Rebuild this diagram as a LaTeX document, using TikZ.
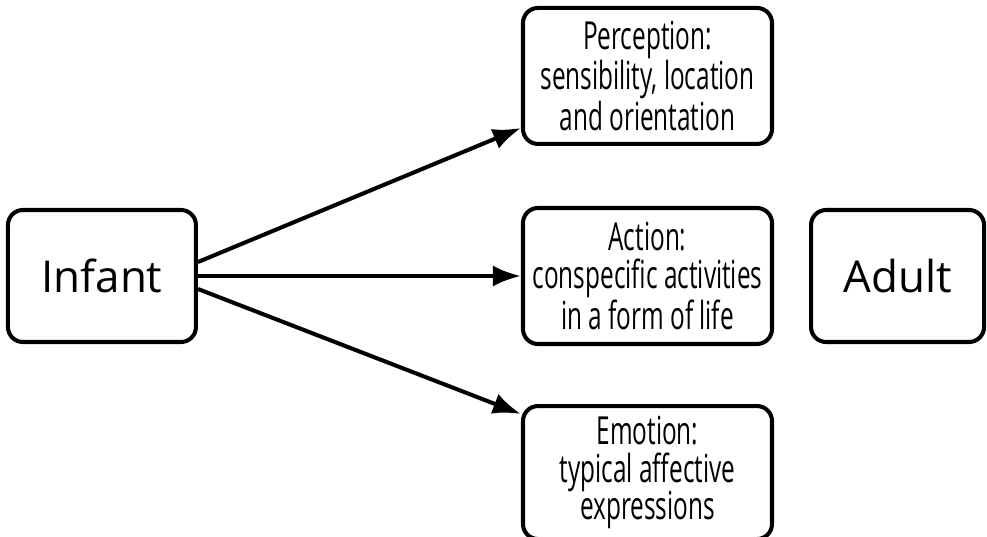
\documentclass[tikz,border=0pt]{standalone}
\usepackage{fontspec}
\setmainfont{Open Sans}
\newfontfamily\narrowfont[FakeStretch=0.63]{Open Sans}
\usetikzlibrary{positioning, arrows.meta, calc}

\begin{document}
\begin{tikzpicture}[
  box/.style={
    rectangle, rounded corners=0.3cm, draw=black, line width=2.3pt,
    minimum width=4.98cm, minimum height=2.72cm,
    align=center, inner sep=0pt,
    font=\narrowfont\fontsize{22}{21.5}\selectfont
  },
  agebox/.style={
    box, minimum height=2.64cm,
    font=\fontsize{25}{30}\selectfont
  },
  arr/.style={-{Latex[length=16pt, width=12pt]}, line width=2.3pt},
]
\useasboundingbox (0,0) rectangle (19.74,-10.74);

\node[box] (action) at (12.95,-5.52) {Action:\\conspecific activities\\in a form of life};
\node[box, above=1.2cm of action] (perception) {Perception:\\sensibility, location\\and orientation};
\node[box, below=1.16cm of action, minimum height=2.66cm] (emotion) {Emotion:\\typical affective\\expressions};

\node[agebox, left=6.46cm of action, minimum width=3.76cm] (infant) {Infant};
\node[agebox, right=0.7cm of action, minimum width=3.46cm] (adult) {Adult};

% Arrows
\draw[arr] ([yshift=0.28cm]infant.east) -- ([yshift=0.36cm]perception.south west);
\draw[arr] (infant.east) -- (infant.east -| action.west);
\draw[arr] ([yshift=-0.26cm]infant.east) -- ([yshift=-0.2cm]emotion.north west);

\end{tikzpicture}
\end{document}
